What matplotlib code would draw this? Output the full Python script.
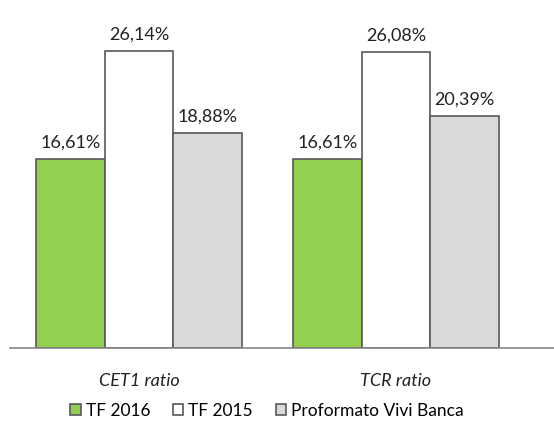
import matplotlib
matplotlib.use('Agg')
import matplotlib.pyplot as plt
import numpy as np

plt.rcParams['font.family'] = ['Lato', 'DejaVu Sans']

categories = ['CET1 ratio', 'TCR ratio']
series_names = ['TF 2016', 'TF 2015', 'Proformato Vivi Banca']
tf2016 = [16.61, 16.61]
tf2015 = [26.14, 26.08]
proformato = [18.88, 20.39]

colors = ['#92D050', '#FFFFFF', '#D9D9D9']
edge = '#595959'

fig = plt.figure(figsize=(5.54, 4.23), dpi=100)
ax = fig.add_axes([10 / 554, 1 - 348 / 423, 544 / 554, 341 / 423])

x = np.arange(len(categories))
width = 0.2666
handles = []
for i, (vals, name) in enumerate(zip([tf2016, tf2015, proformato], series_names)):
    bars = ax.bar(x + (i - 1) * width, vals, width, color=colors[i],
                  edgecolor=edge, linewidth=1.2, label=name, zorder=2)
    handles.append(bars)
    for b, v in zip(bars, vals):
        ax.annotate(f'{v:.2f}%'.replace('.', ','), (b.get_x() + b.get_width() / 2, v),
                    xytext=(0, 6), textcoords='offset points',
                    ha='center', va='bottom', fontsize=13, color='#222222')

ax.set_xlim(-0.502, 1.615)
ax.set_ylim(0, 30)
ax.set_yticks([])
ax.set_xticks([])
for s in ['top', 'right', 'left']:
    ax.spines[s].set_visible(False)
ax.spines['bottom'].set_color('#868686')
ax.spines['bottom'].set_linewidth(1.2)

for xi, c in zip(x, categories):
    ax.annotate(c, (xi, 0), xytext=(0, -18), textcoords='offset points',
                ha='center', va='top', fontsize=13, style='italic', color='#222222')

fig.legend(handles=handles, labels=series_names, loc='center', ncol=3,
           bbox_to_anchor=(267 / 554, 1 - 411 / 423), frameon=False,
           fontsize=12.5, handlelength=0.6, handleheight=0.6,
           handletextpad=0.3, columnspacing=1.3)

fig.savefig('out.png', dpi=100)
